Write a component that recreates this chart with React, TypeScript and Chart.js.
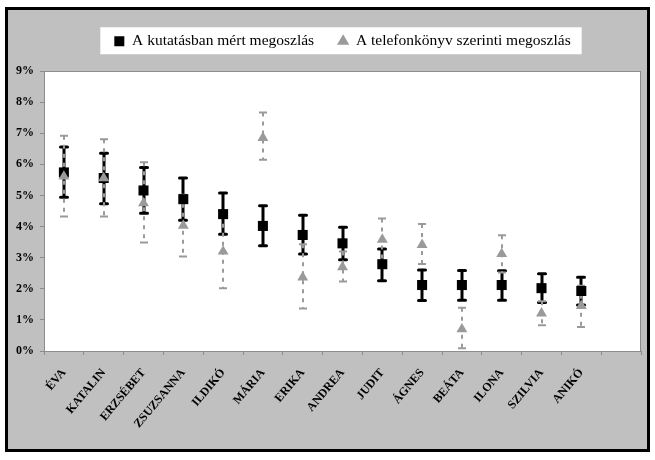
import { useEffect, useRef } from 'react';
import { Chart, registerables } from 'chart.js';

Chart.register(...registerables);

const categories = ['ÉVA', 'KATALIN', 'ERZSÉBET', 'ZSUZSANNA', 'ILDIKÓ', 'MÁRIA', 'ERIKA', 'ANDREA', 'JUDIT', 'ÁGNES', 'BEÁTA', 'ILONA', 'SZILVIA', 'ANIKÓ', ''];

const measured = [5.74, 5.56, 5.16, 4.88, 4.40, 4.02, 3.73, 3.46, 2.79, 2.12, 2.12, 2.12, 2.02, 1.93];
const measuredLow = [4.94, 4.73, 4.43, 4.20, 3.75, 3.38, 3.12, 2.93, 2.26, 1.62, 1.63, 1.63, 1.56, 1.48];
const measuredHigh = [6.56, 6.36, 5.90, 5.56, 5.08, 4.67, 4.36, 3.98, 3.28, 2.60, 2.59, 2.58, 2.48, 2.37];

const phonebook = [5.61, 5.56, 4.75, 4.03, 3.20, 6.85, 2.37, 2.70, 3.58, 3.41, 0.70, 3.12, 1.21, 1.45];
const phonebookLow = [4.32, 4.32, 3.49, 3.04, 2.02, 6.15, 1.37, 2.23, 2.90, 2.80, 0.09, 2.52, 0.83, 0.77];
const phonebookHigh = [6.92, 6.81, 6.07, 5.02, 4.38, 7.67, 3.43, 3.20, 4.26, 4.08, 1.39, 3.72, 1.60, 2.10];

const yTicks = [0, 1, 2, 3, 4, 5, 6, 7, 8, 9];

const seriesNames = ['A kutatásban mért megoszlás', 'A telefonkönyv szerinti megoszlás'];

const SERIF = "'Liberation Serif', 'Times New Roman', serif";
const GRAY_MARK = '#9a9a9a';

export default function App() {
  const ref = useRef<HTMLCanvasElement>(null);

  useEffect(() => {
    document.body.style.margin = '0';
    const canvas = ref.current!;

    const backgroundPlugin = {
      id: 'bgFrame',
      beforeDraw(chart: any) {
        const { ctx, width, height, chartArea: a } = chart;
        ctx.save();
        ctx.fillStyle = '#ffffff';
        ctx.fillRect(0, 0, width, height);
        ctx.fillStyle = '#c0c0c0';
        ctx.fillRect(6, 8, 643, 443);
        ctx.lineWidth = 3;
        ctx.strokeStyle = '#000000';
        ctx.strokeRect(6.5, 8.5, 642, 442);
        ctx.fillStyle = '#ffffff';
        ctx.fillRect(a.left, a.top, a.right - a.left, a.bottom - a.top);
        const hb = chart.legend && chart.legend.legendHitBoxes;
        if (hb && hb.length) {
          const first = hb[0];
          const last = hb[hb.length - 1];
          const cy = first.top + first.height / 2;
          const l = first.left - 14;
          const r = last.left + last.width + 11;
          ctx.fillRect(l, cy - 14, r - l, 27);
        }
        ctx.restore();
      },
      afterDraw(chart: any) {
        const { ctx, chartArea: a } = chart;
        ctx.save();
        ctx.lineWidth = 1;
        ctx.strokeStyle = '#8c8c8c';
        ctx.strokeRect(a.left + 0.5, a.top + 0.5, a.right - a.left - 1, a.bottom - a.top);
        ctx.restore();
      },
    };

    const errorBarPlugin = {
      id: 'errorBars',
      beforeDatasetsDraw(chart: any) {
        const { ctx } = chart;
        const xs = chart.scales.x;
        const ys = chart.scales.y;
        const draw = (lo: number[], hi: number[], color: string, lw: number, dash: number[], capW: number, cap: CanvasLineCap) => {
          for (let i = 0; i < lo.length; i++) {
            const px = Math.round(xs.getPixelForValue(i));
            const y1 = ys.getPixelForValue(lo[i]);
            const y2 = ys.getPixelForValue(hi[i]);
            ctx.save();
            ctx.strokeStyle = color;
            ctx.lineWidth = lw;
            ctx.lineCap = 'butt';
            ctx.setLineDash(dash);
            ctx.beginPath();
            ctx.moveTo(px, y2);
            ctx.lineTo(px, y1);
            ctx.stroke();
            ctx.setLineDash([]);
            ctx.lineCap = cap;
            ctx.beginPath();
            ctx.moveTo(px - capW / 2, y1);
            ctx.lineTo(px + capW / 2, y1);
            ctx.moveTo(px - capW / 2, y2);
            ctx.lineTo(px + capW / 2, y2);
            ctx.stroke();
            ctx.restore();
          }
        };
        draw(measuredLow, measuredHigh, '#000000', 3, [], 7, 'round');
        draw(phonebookLow, phonebookHigh, GRAY_MARK, 2, [4, 5], 8, 'butt');
      },
    };

    const chart = new Chart(canvas, {
      type: 'line',
      data: {
        labels: categories,
        datasets: [
          {
            label: seriesNames[0],
            data: measured,
            showLine: false,
            pointStyle: 'rect',
            pointRadius: 7.1,
            pointHoverRadius: 7.1,
            backgroundColor: '#000000',
            borderColor: '#000000',
            pointBackgroundColor: '#000000',
            pointBorderColor: '#000000',
            pointBorderWidth: 0,
            order: 2,
          },
          {
            label: seriesNames[1],
            data: phonebook,
            showLine: false,
            pointStyle: 'triangle',
            pointRadius: 6.3,
            pointHoverRadius: 6.3,
            backgroundColor: GRAY_MARK,
            borderColor: GRAY_MARK,
            pointBackgroundColor: GRAY_MARK,
            pointBorderColor: GRAY_MARK,
            pointBorderWidth: 0,
            order: 1,
          },
        ],
      },
      options: {
        responsive: false,
        animation: false,
        layout: { padding: { top: 9.5, left: 0, right: 14, bottom: 0 } },
        plugins: {
          tooltip: { enabled: false },
          title: {
            display: true,
            text: '',
            position: 'top',
            weight: 500,
            padding: 0,
            font: { size: 12, lineHeight: 1 },
          } as any,
          legend: {
            display: true,
            position: 'top',
            fullSize: false,
            labels: {
              usePointStyle: true,
              boxWidth: 10,
              boxHeight: 10,
              padding: 24,
              color: '#000000',
              font: { family: SERIF, size: 15.5 },
              sort: (a: any, b: any) => a.datasetIndex - b.datasetIndex,
            },
          },
        },
        scales: {
          x: {
            type: 'category',
            offset: true,
            afterFit: (s: any) => { s.height = 109; },
            grid: {
              display: true,
              offset: true,
              drawOnChartArea: false,
              drawTicks: true,
              tickLength: 4,
              color: '#8c8c8c',
            },
            border: { display: true, color: '#8c8c8c' },
            ticks: {
              autoSkip: false,
              maxRotation: 50,
              minRotation: 50,
              padding: 11,
              color: '#000000',
              font: { family: SERIF, size: 12, weight: 'bold' },
            },
          },
          y: {
            type: 'linear',
            min: 0,
            max: 9,
            afterFit: (s: any) => { s.width = 44; },
            afterBuildTicks: (s: any) => { s.ticks = yTicks.map((v) => ({ value: v })); },
            grid: {
              display: true,
              drawOnChartArea: false,
              drawTicks: true,
              tickLength: 4,
              color: '#8c8c8c',
            },
            border: { display: true, color: '#8c8c8c' },
            ticks: {
              padding: 6,
              color: '#000000',
              font: { family: SERIF, size: 12, weight: 'bold' },
              callback: (v: any) => v + '%',
            },
          },
        },
      },
      plugins: [backgroundPlugin, errorBarPlugin],
    });

    return () => chart.destroy();
  }, []);

  return (
    <div style={{ width: 655, height: 460 }}>
      <canvas ref={ref} width={655} height={460} style={{ display: 'block' }} />
    </div>
  );
}
